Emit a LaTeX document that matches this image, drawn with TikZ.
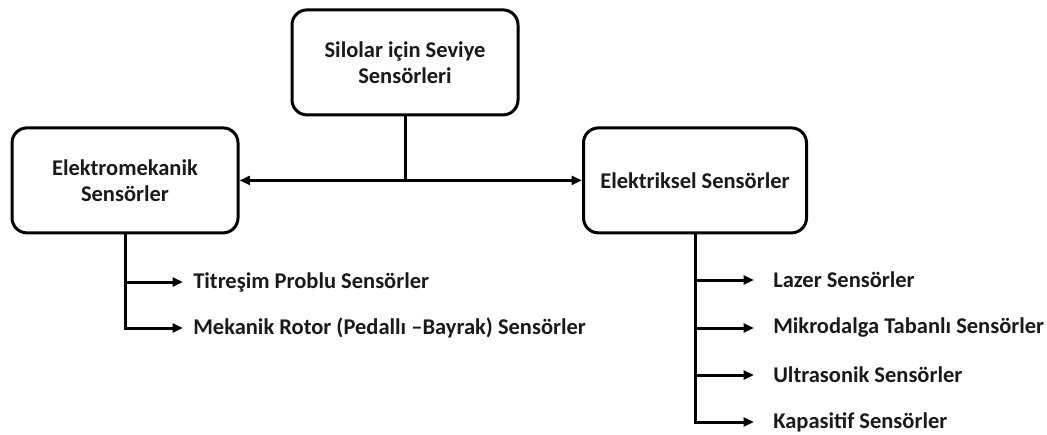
\documentclass[tikz,border=0pt]{standalone}
\usepackage{fontspec}
\setmainfont{Carlito}
\usetikzlibrary{arrows.meta,calc}
\definecolor{ink}{HTML}{000000}
\definecolor{textink}{HTML}{1A1A1A}

\begin{document}
\begin{tikzpicture}[
  font={\fontsize{16pt}{18.5pt}\selectfont\bfseries},
  >={Triangle[length=2.6mm, width=2.2mm]},
  box/.style={draw=ink, line width=0.75mm, rounded corners=3.75mm, fill=white,
    text=textink, align=center, minimum height=26.25mm, inner sep=2pt},
  leaf/.style={anchor=west, text=textink, inner xsep=2.5mm, inner ysep=1pt},
  wideleaf/.style={leaf, inner xsep=4.75mm},
  link/.style={draw=ink, line width=0.75mm},
  branch/.style={->, draw=ink, line width=0.75mm}
]
\useasboundingbox (0,0) rectangle (261.75mm,-108.5mm);

% ---------------------------------------------------------------------------
% top level and the two sensor groups
% ---------------------------------------------------------------------------
\node[box, minimum width=56.5mm] (silo) at (101.25mm,-15.6mm) {Silolar için Seviye\\Sensörleri};
\node[box, minimum width=56.5mm] (elmek) at (31.25mm,-45.1mm) {Elektromekanik\\Sensörler};
\node[box, minimum width=55.75mm] (elek) at (173.75mm,-45.1mm) {Elektriksel Sensörler};

\coordinate (hub) at (silo.south |- elmek.east);
\draw[link] (silo.south) -- (hub);
\draw[branch] (hub) -- (elmek.east);
\draw[branch] (hub) -- (elek.west);

% ---------------------------------------------------------------------------
% leaves of the electromechanical group
% ---------------------------------------------------------------------------
\node[leaf] (titr) at (45.75mm,-70.5mm) {Titreşim Problu Sensörler};
\node[leaf] (rotor) at (45.75mm,-82mm) {Mekanik Rotor (Pedallı –Bayrak) Sensörler};
\draw[branch] (elmek.south) |- (titr.west);
\draw[branch] (elmek.south) |- (rotor.west);

% ---------------------------------------------------------------------------
% leaves of the electrical group
% ---------------------------------------------------------------------------
\node[wideleaf] (lazer) at (188.5mm,-70mm) {Lazer Sensörler};
\node[wideleaf] (mikro) at (188.5mm,-82mm) {Mikrodalga Tabanlı Sensörler};
\node[wideleaf] (ultra) at (188.5mm,-93.75mm) {Ultrasonik Sensörler};
\node[wideleaf] (kapa) at (188.5mm,-105.5mm) {Kapasitif Sensörler};
\draw[branch] (elek.south) |- (lazer.west);
\draw[branch] (elek.south) |- (mikro.west);
\draw[branch] (elek.south) |- (ultra.west);
\draw[branch] (elek.south) |- (kapa.west);

\end{tikzpicture}
\end{document}
